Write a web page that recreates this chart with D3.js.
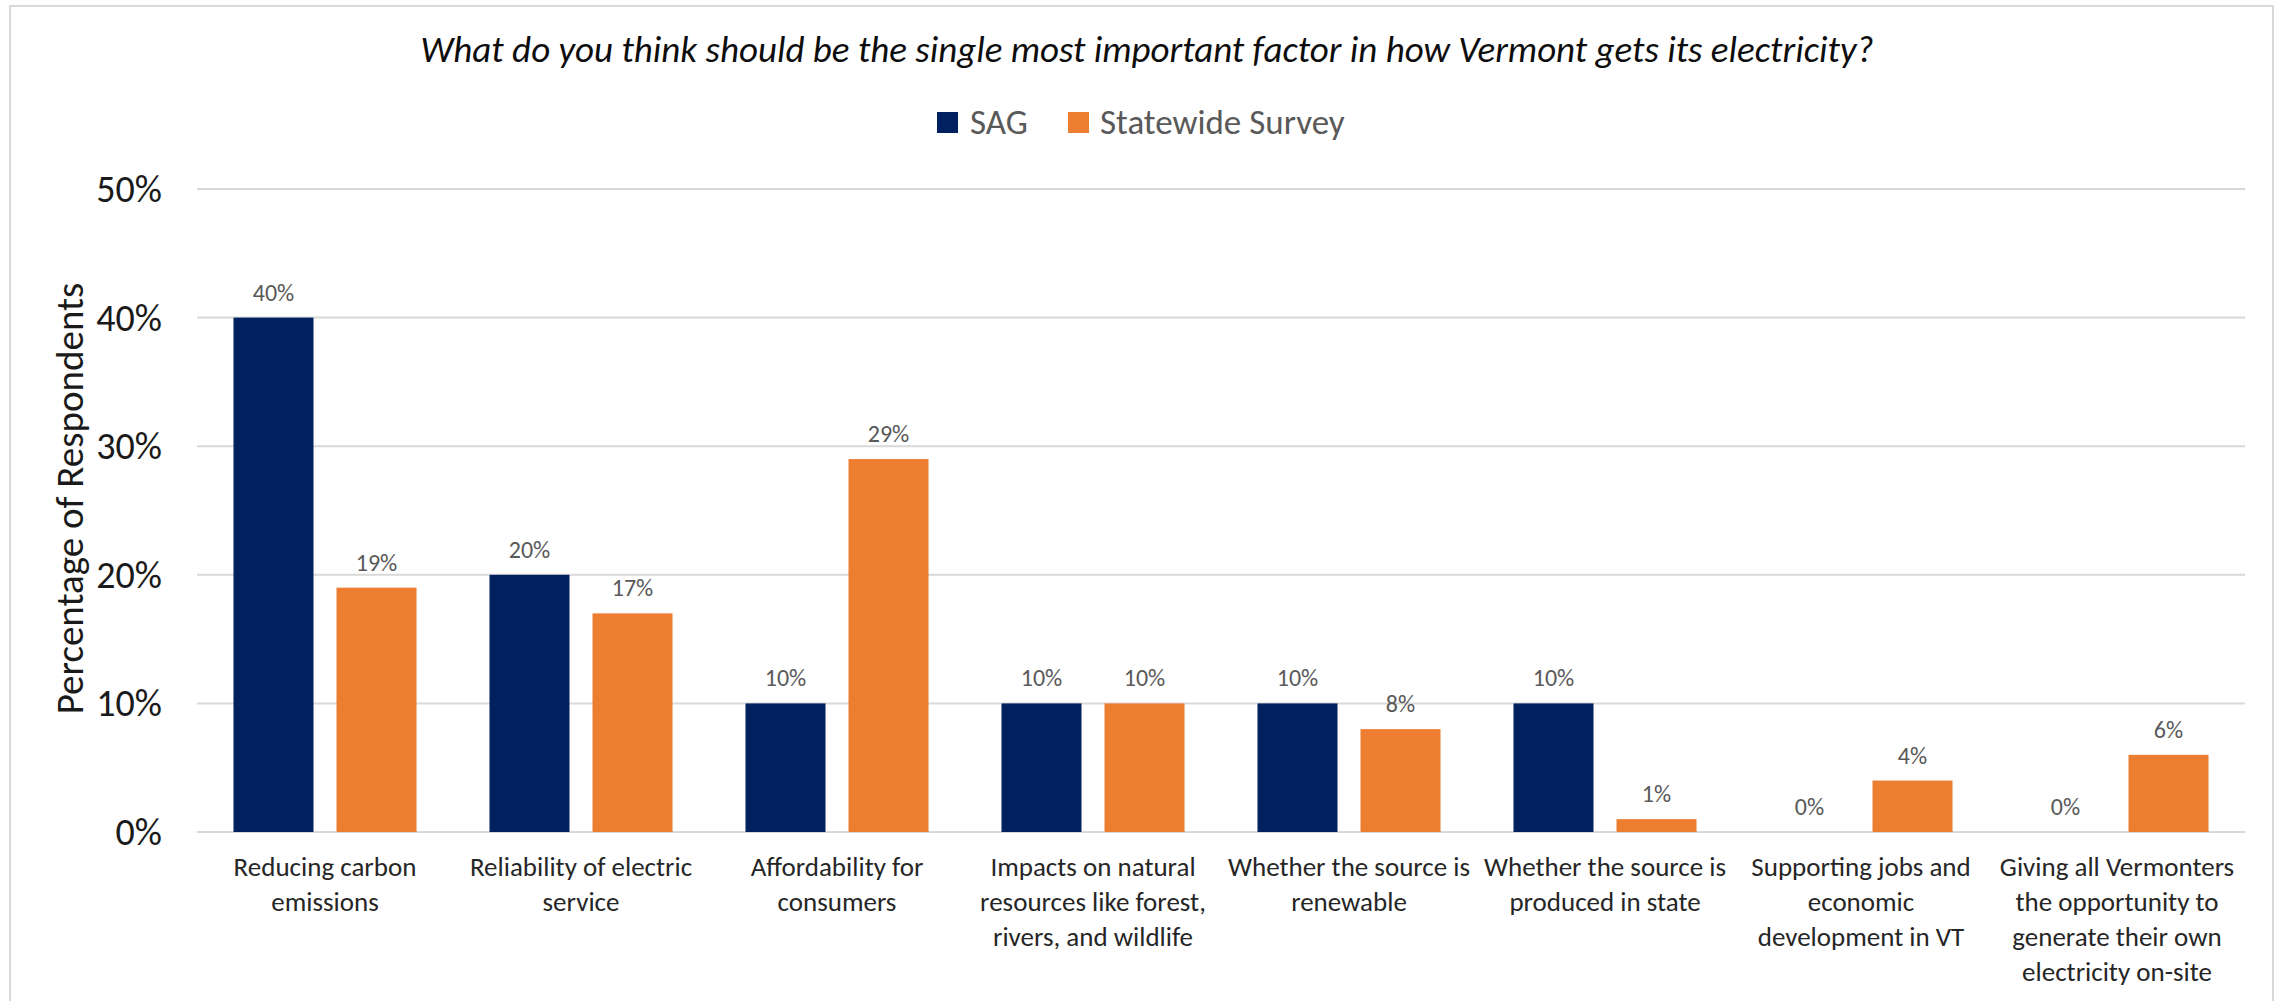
<!DOCTYPE html>
<html>
<head>
<meta charset="utf-8">
<script src="https://cdn.jsdelivr.net/npm/d3@7"></script>
<style>
  body { margin: 0; background: #fff; }
  text { font-family: Calibri, Carlito, Lato, sans-serif; }
</style>
</head>
<body>
<div id="vis"></div>
<script>
// chart data
const categories = [
  ['Reducing carbon', 'emissions'],
  ['Reliability of electric', 'service'],
  ['Affordability for', 'consumers'],
  ['Impacts on natural', 'resources like forest,', 'rivers, and wildlife'],
  ['Whether the source is', 'renewable'],
  ['Whether the source is', 'produced in state'],
  ['Supporting jobs and', 'economic', 'development in VT'],
  ['Giving all Vermonters', 'the opportunity to', 'generate their own', 'electricity on-site']
];
const seriesNames = ['SAG', 'Statewide Survey'];
const sagValues = [40, 20, 10, 10, 10, 10, 0, 0];
const surveyValues = [19, 17, 29, 10, 8, 1, 4, 6];
const yTicks = [0, 10, 20, 30, 40, 50];
const colors = ['#002060', '#ED7D31'];

const width = 2275;
const height = 1001;
const margin = { left: 197, right: 30, top: 189, bottom: 169 };

const svg = d3.select('#vis')
  .append('svg')
  .attr('width', width)
  .attr('height', height);

// outer frame
svg.append('rect')
  .attr('x', 10)
  .attr('y', 6)
  .attr('width', 2263)
  .attr('height', 1010)
  .attr('fill', 'none')
  .attr('stroke', '#d9d9d9')
  .attr('stroke-width', 2);

const x0 = d3.scaleBand()
  .domain(d3.range(categories.length))
  .range([margin.left, width - margin.right])
  .paddingInner(0.285)
  .paddingOuter(0.1425);

const x1 = d3.scaleBand()
  .domain([0, 1])
  .range([0, x0.bandwidth()])
  .paddingInner(0.2233);

const y = d3.scaleLinear()
  .domain([0, 50])
  .range([height - margin.bottom, margin.top]);

// gridlines
svg.append('g')
  .selectAll('line')
  .data(yTicks)
  .enter()
  .append('line')
  .attr('x1', margin.left)
  .attr('x2', width - margin.right)
  .attr('y1', d => y(d))
  .attr('y2', d => y(d))
  .attr('stroke', '#d9d9d9')
  .attr('stroke-width', 2);

// y tick labels
svg.append('g')
  .selectAll('text')
  .data(yTicks)
  .enter()
  .append('text')
  .attr('x', 162)
  .attr('y', d => y(d) + 13)
  .attr('text-anchor', 'end')
  .attr('font-size', '38px')
  .attr('fill', '#1a1a1a')
  .text(d => d + '%');

// y axis title
svg.append('text')
  .attr('transform', 'translate(83,' + (y(25) - 12) + ') rotate(-90)')
  .attr('text-anchor', 'middle')
  .attr('font-size', '39px')
  .attr('fill', '#1a1a1a')
  .text('Percentage of Respondents');

// bars
const rows = categories.map((c, i) => ({ i: i, values: [sagValues[i], surveyValues[i]] }));

const groups = svg.append('g')
  .selectAll('g')
  .data(rows)
  .enter()
  .append('g')
  .attr('transform', d => 'translate(' + x0(d.i) + ',0)');

groups.selectAll('rect')
  .data(d => d.values.map((v, k) => ({ k: k, v: v })))
  .enter()
  .append('rect')
  .attr('x', d => x1(d.k))
  .attr('y', d => y(d.v))
  .attr('width', x1.bandwidth())
  .attr('height', d => y(0) - y(d.v))
  .attr('fill', d => colors[d.k]);

// value labels
groups.selectAll('text')
  .data(d => d.values.map((v, k) => ({ k: k, v: v })))
  .enter()
  .append('text')
  .attr('x', d => x1(d.k) + x1.bandwidth() / 2)
  .attr('y', d => y(d.v) - 17)
  .attr('text-anchor', 'middle')
  .attr('font-size', '24px')
  .attr('fill', '#595959')
  .text(d => d.v + '%');

// category labels
const catLabels = svg.append('g')
  .selectAll('text')
  .data(categories)
  .enter()
  .append('text')
  .attr('text-anchor', 'middle')
  .attr('font-size', '27px')
  .attr('fill', '#262626');

catLabels.selectAll('tspan')
  .data((d, i) => d.map(line => ({ line: line, i: i })))
  .enter()
  .append('tspan')
  .attr('x', d => x0(d.i) + x0.bandwidth() / 2)
  .attr('y', (d, j) => 876 + j * 35)
  .text(d => d.line);

// title
svg.append('text')
  .attr('x', 1147)
  .attr('y', 62)
  .attr('text-anchor', 'middle')
  .attr('font-size', '37px')
  .attr('font-style', 'italic')
  .attr('fill', '#0d0d0d')
  .text('What do you think should be the single most important factor in how Vermont gets its electricity?');

// legend
const legend = svg.append('g');
const legendX = [937, 1068];
const legendTextX = [970, 1100];

legend.selectAll('rect')
  .data(seriesNames)
  .enter()
  .append('rect')
  .attr('x', (d, i) => legendX[i])
  .attr('y', 112)
  .attr('width', 21)
  .attr('height', 21)
  .attr('fill', (d, i) => colors[i]);

legend.selectAll('text')
  .data(seriesNames)
  .enter()
  .append('text')
  .attr('x', (d, i) => legendTextX[i])
  .attr('y', 134)
  .attr('font-size', '35px')
  .attr('fill', '#595959')
  .text(d => d);
</script>
</body>
</html>
